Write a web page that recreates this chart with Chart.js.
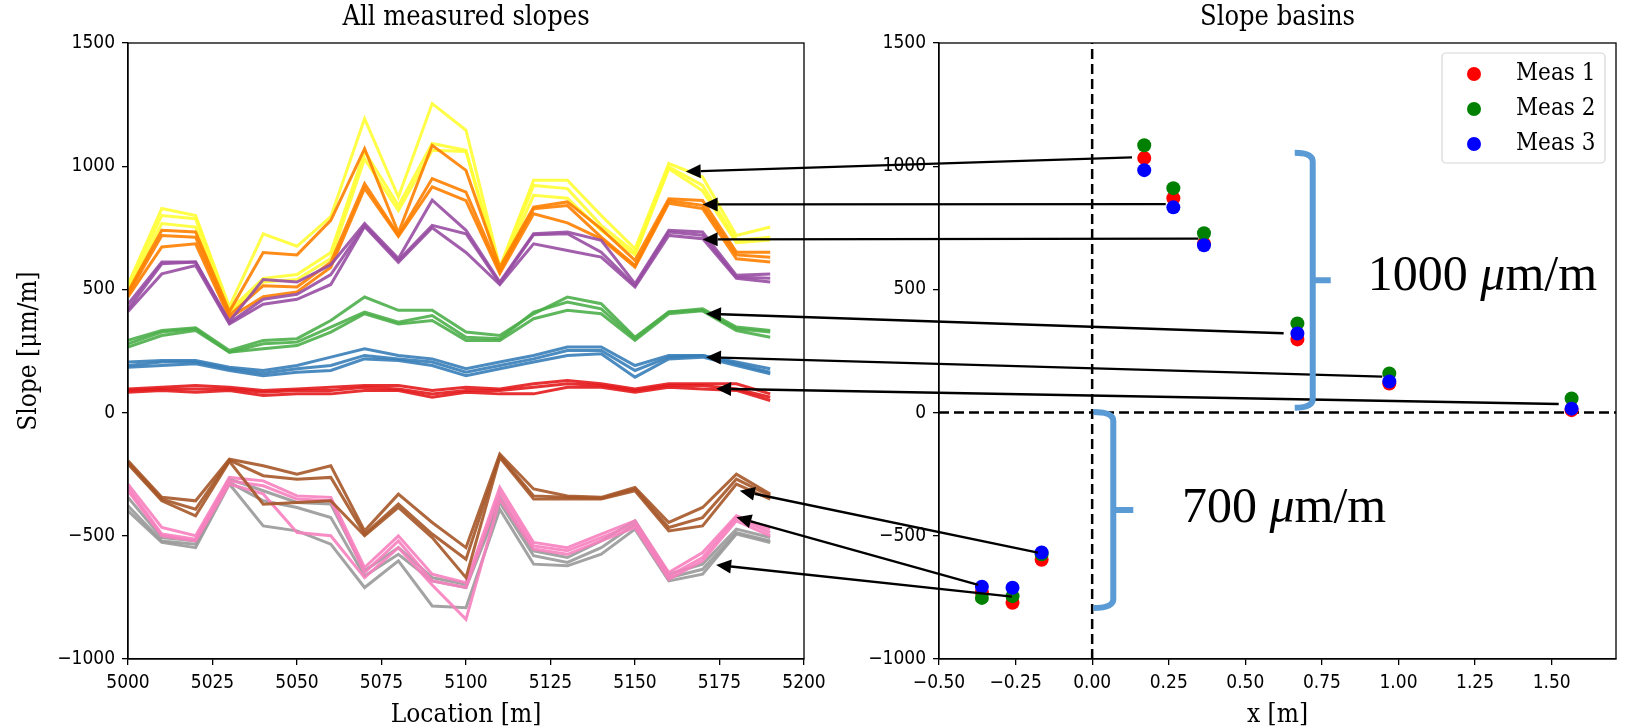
<!DOCTYPE html>
<html>
<head>
<meta charset="utf-8">
<title>Slopes</title>
<script src="https://cdn.jsdelivr.net/npm/chart.js@4.4.0/dist/chart.umd.min.js"></script>
<style>
  body { margin: 0; background: #fff; }
  #wrap { position: relative; width: 1637px; height: 728px; }
  canvas { position: absolute; top: 0; }
  #slopeChart { left: 0; }
  #basinChart { left: 818px; }
  #notes { left: 0; pointer-events: none; }
</style>
</head>
<body>
<div id="wrap">
  <canvas id="slopeChart" width="850" height="728"></canvas>
  <canvas id="basinChart" width="819" height="728"></canvas>
  <canvas id="notes" width="1637" height="728"></canvas>
</div>
<script>
// ---- measured slopes along the line, three runs per basin ----
const locations = [5000, 5010, 5020, 5030, 5040, 5050, 5060, 5070, 5080, 5090,
                   5100, 5110, 5120, 5130, 5140, 5150, 5160, 5170, 5180, 5190];

const red1 = [96, 103, 110, 103, 90, 96, 103, 110, 110, 90, 103, 96, 117, 130, 117, 96, 117, 117, 117, 76];
const red2 = [90, 96, 96, 96, 83, 90, 90, 103, 96, 76, 90, 90, 103, 117, 110, 90, 110, 110, 96, 62];
const red3 = [83, 90, 83, 90, 69, 76, 76, 90, 90, 62, 83, 76, 76, 103, 103, 83, 103, 96, 90, 49];

const blue1 = [205, 211, 211, 184, 171, 191, 225, 259, 232, 218, 178, 205, 232, 266, 266, 191, 232, 232, 205, 178];
const blue2 = [191, 205, 205, 178, 160, 178, 191, 232, 218, 205, 164, 191, 218, 252, 252, 171, 225, 232, 198, 164];
const blue3 = [184, 191, 198, 171, 150, 164, 171, 218, 211, 191, 150, 178, 205, 232, 239, 144, 218, 225, 191, 157];

const green1 = [293, 333, 344, 252, 293, 300, 374, 469, 415, 415, 327, 313, 401, 469, 442, 306, 408, 421, 347, 333];
const green2 = [279, 327, 340, 245, 279, 286, 347, 408, 367, 394, 306, 300, 408, 449, 421, 300, 408, 415, 340, 327];
const green3 = [266, 313, 333, 245, 259, 272, 327, 401, 360, 374, 293, 293, 381, 415, 401, 293, 401, 413, 333, 306];

const purple1 = [440, 611, 611, 370, 540, 530, 600, 767, 625, 862, 740, 530, 726, 733, 699, 523, 740, 733, 557, 563];
const purple2 = [420, 604, 611, 365, 460, 480, 560, 760, 618, 760, 726, 525, 722, 726, 651, 515, 733, 720, 550, 545];
const purple3 = [410, 563, 597, 360, 440, 460, 520, 755, 610, 750, 650, 520, 685, 658, 631, 510, 719, 706, 545, 530];

const orange1 = [490, 740, 733, 410, 650, 640, 780, 1071, 730, 1085, 983, 590, 834, 855, 746, 618, 868, 861, 651, 651];
const orange2 = [480, 719, 712, 395, 515, 510, 610, 929, 720, 950, 895, 575, 827, 840, 712, 597, 860, 841, 640, 630];
const orange3 = [470, 672, 685, 385, 470, 490, 590, 910, 715, 916, 860, 565, 807, 770, 705, 590, 850, 828, 624, 611];

const yellow1 = [520, 828, 800, 430, 725, 675, 795, 1193, 875, 1254, 1146, 590, 943, 943, 800, 665, 1011, 956, 719, 753];
const yellow2 = [505, 800, 787, 415, 545, 560, 650, 1060, 840, 1092, 1065, 580, 922, 909, 760, 650, 997, 922, 699, 712];
const yellow3 = [490, 767, 753, 405, 530, 540, 625, 1030, 820, 1065, 1060, 570, 882, 870, 740, 640, 990, 900, 690, 700];

const brown1 = [-195, -344, -358, -189, -216, -250, -216, -480, -331, -446, -548, -168, -310, -338, -344, -304, -446, -385, -250, -331];
const brown2 = [-202, -351, -392, -193, -256, -270, -263, -493, -371, -493, -595, -175, -338, -344, -348, -310, -466, -426, -270, -338];
const brown3 = [-209, -358, -419, -198, -372, -365, -358, -500, -385, -507, -670, -182, -351, -351, -351, -317, -480, -460, -290, -351];

const pink1 = [-290, -466, -500, -263, -277, -338, -344, -629, -500, -656, -690, -304, -527, -548, -493, -439, -649, -568, -419, -473];
const pink2 = [-304, -493, -514, -277, -297, -351, -358, -649, -521, -683, -710, -324, -541, -561, -507, -453, -663, -588, -426, -487];
const pink3 = [-317, -500, -521, -290, -330, -487, -500, -670, -548, -700, -839, -351, -554, -575, -521, -466, -676, -602, -439, -500];

const grey1 = [-344, -507, -521, -270, -317, -365, -371, -642, -548, -670, -697, -344, -561, -588, -521, -439, -656, -615, -473, -507];
const grey2 = [-378, -521, -534, -283, -358, -385, -426, -663, -575, -683, -710, -365, -581, -608, -548, -453, -670, -636, -487, -521];
const grey3 = [-399, -527, -548, -290, -460, -480, -534, -710, -602, -785, -792, -392, -615, -622, -575, -473, -683, -656, -493, -527];

// ---- basin positions and their slope per run ----
const basinX = [0.17, 0.265, 0.365, 0.67, 0.97, 1.565, -0.165, -0.36, -0.26];
const meas1 = [1033, 870, 685, 297, 118, 10, -597, -730, -772];
const meas2 = [1085, 911, 728, 362, 159, 57, -575, -752, -745];
const meas3 = [984, 833, 679, 321, 126, 16, -568, -707, -711];

// ---- axis ticks ----
const slopeTicks = [-1000, -500, 0, 500, 1000, 1500];
const locationTicks = [5000, 5025, 5050, 5075, 5100, 5125, 5150, 5175, 5200];
const basinTicks = [-0.5, -0.25, 0, 0.25, 0.5, 0.75, 1.0, 1.25, 1.5];

// ---- arrows: head on the slope profile, tail next to the basin point ----
const arrowHeadLoc = [5165, 5170, 5170, 5171, 5171, 5174, 5181, 5180, 5174];
const arrowHeadSlope = [978, 845, 703, 401, 225, 97, -317, -425, -618];
const arrowTailX = [0.13, 0.24, 0.347, 0.625, 0.947, 1.523, -0.177, -0.372, -0.262];
const arrowTailY = [1036, 846, 706, 322, 146, 35, -568, -699, -747];

const SET1 = {
  red: '#e41a1c', blue: '#377eb8', green: '#4daf4a', purple: '#984ea3', orange: '#ff7f00',
  yellow: '#ffff33', brown: '#a65628', pink: '#f781bf', grey: '#999999'
};

const profiles = [
  ['red', [red1, red2, red3]], ['blue', [blue1, blue2, blue3]], ['green', [green1, green2, green3]],
  ['purple', [purple1, purple2, purple3]], ['orange', [orange1, orange2, orange3]],
  ['yellow', [yellow1, yellow2, yellow3]], ['brown', [brown1, brown2, brown3]],
  ['pink', [pink1, pink2, pink3]], ['grey', [grey1, grey2, grey3]]
];

const SANS = '"DejaVu Sans Condensed", "DejaVu Sans", sans-serif';
const SERIF = '"DejaVu Serif Condensed", "DejaVu Serif", serif';

const fmtNum = v => (v < 0 ? '\u2212' + Math.abs(v) : String(v));

const fixTicks = vals => scale => { scale.ticks = vals.map(v => ({ value: v })); };

// keep the plot box fixed: no extra room for labels hanging past the ends
const fitBox = (w, h) => scale => {
  if (w !== null) scale.width = w;
  if (h !== null) scale.height = h;
  scale.paddingLeft = 0;
  scale.paddingRight = 0;
  scale.paddingTop = 0;
  scale.paddingBottom = 0;
};

function axisStyle() {
  return {
    grid: { display: true, drawOnChartArea: false, drawTicks: true, tickLength: 6, color: '#000', lineWidth: 1.3 },
    border: { display: true, color: '#000', width: 1.3 },
    ticks: { color: '#000', font: { family: SANS, size: 19 }, padding: 7 }
  };
}

// box round the plot area and the panel title
const framePlugin = {
  id: 'frame',
  afterDraw(chart, args, opts) {
    const { ctx, chartArea: a } = chart;
    ctx.save();
    ctx.strokeStyle = '#000';
    ctx.lineWidth = 1.3;
    ctx.strokeRect(a.left, a.top, a.right - a.left, a.bottom - a.top);
    ctx.fillStyle = '#000';
    ctx.font = '27px ' + SERIF;
    ctx.textAlign = 'center';
    ctx.textBaseline = 'middle';
    ctx.fillText(opts.title, (a.left + a.right) / 2, a.top - 25);
    ctx.restore();
  }
};

const lineSets = [];
profiles.forEach(([name, runs]) => {
  runs.forEach(run => {
    lineSets.push({
      data: locations.map((loc, i) => ({ x: loc, y: run[i] })),
      borderColor: SET1[name] + 'e6',
      borderWidth: 3,
      pointRadius: 0,
      tension: 0,
      fill: false
    });
  });
});

const xs = axisStyle(), ys = axisStyle();
const slopeChart = new Chart(document.getElementById('slopeChart'), {
  type: 'line',
  data: { datasets: lineSets },
  options: {
    responsive: false, animation: false, devicePixelRatio: 1,
    layout: { padding: { top: 43, right: 46, left: 0, bottom: 0 } },
    plugins: { legend: { display: false }, tooltip: { enabled: false }, frame: { title: 'All measured slopes' } },
    scales: {
      x: Object.assign(xs, {
        type: 'linear', min: 5000, max: 5200,
        afterBuildTicks: fixTicks(locationTicks),
        afterFit: fitBox(null, 69),
        title: { display: true, text: 'Location [m]', color: '#000', font: { family: SERIF, size: 26, lineHeight: 1 }, padding: { top: 0, bottom: 0 } }
      }),
      y: Object.assign(ys, {
        min: -1000, max: 1500,
        afterBuildTicks: fixTicks(slopeTicks),
        afterFit: fitBox(128, null),
        title: { display: true, text: 'Slope [\u03bcm/m]', color: '#000', font: { family: SERIF, size: 26, lineHeight: 1 }, padding: { top: 16, bottom: 0 } }
      })
    }
  },
  plugins: [framePlugin]
});
slopeChart.options.scales.x.ticks.callback = v => String(v);
slopeChart.options.scales.y.ticks.callback = v => fmtNum(v);
slopeChart.update();

const measColors = ['red', 'green', 'blue'];
const measRuns = [meas1, meas2, meas3];
const basinSets = measRuns.map((run, k) => ({
  type: 'scatter',
  label: 'Meas ' + (k + 1),
  data: basinX.map((x, i) => ({ x: x, y: run[i] })),
  backgroundColor: measColors[k],
  borderWidth: 0,
  pointRadius: 7,
  order: 3 - k
}));
const zeroStyle = { type: 'line', borderColor: '#000', borderWidth: 2.5, borderDash: [10, 5], pointRadius: 0, order: 5 };
basinSets.push(Object.assign({ data: [{ x: 0, y: -1000 }, { x: 0, y: 1500 }] }, zeroStyle));
basinSets.push(Object.assign({ data: [{ x: -0.5, y: 0 }, { x: 1.71, y: 0 }] }, zeroStyle));

// legend drawn inside the upper right corner
const basinLegend = {
  id: 'basinLegend',
  afterDraw(chart) {
    const { ctx, chartArea: a } = chart;
    const bx = a.right - 174, by = a.top + 10, bw = 163, bh = 110;
    ctx.save();
    ctx.fillStyle = 'rgba(255,255,255,0.8)';
    ctx.strokeStyle = '#d6d6d6';
    ctx.lineWidth = 1.2;
    ctx.beginPath();
    ctx.roundRect(bx, by, bw, bh, 4);
    ctx.fill();
    ctx.stroke();
    ctx.font = '24px ' + SERIF;
    ctx.textBaseline = 'middle';
    measColors.forEach((c, k) => {
      const cy = by + 21 + k * 35;
      ctx.fillStyle = c;
      ctx.beginPath();
      ctx.arc(bx + 32, cy, 7, 0, Math.PI * 2);
      ctx.fill();
      ctx.fillStyle = '#000';
      ctx.fillText('Meas ' + (k + 1), bx + 74, cy);
    });
    ctx.restore();
  }
};

const bxs = axisStyle(), bys = axisStyle();
const basinChart = new Chart(document.getElementById('basinChart'), {
  type: 'scatter',
  data: { datasets: basinSets },
  options: {
    responsive: false, animation: false, devicePixelRatio: 1,
    layout: { padding: { top: 43, right: 21, left: 0, bottom: 0 } },
    plugins: { legend: { display: false }, tooltip: { enabled: false }, frame: { title: 'Slope basins' } },
    scales: {
      x: Object.assign(bxs, {
        type: 'linear', min: -0.5, max: 1.71,
        afterBuildTicks: fixTicks(basinTicks),
        afterFit: fitBox(null, 69),
        title: { display: true, text: 'x [m]', color: '#000', font: { family: SERIF, size: 26, lineHeight: 1 }, padding: { top: 0, bottom: 0 } }
      }),
      y: Object.assign(bys, {
        min: -1000, max: 1500,
        afterBuildTicks: fixTicks(slopeTicks),
        afterFit: fitBox(121, null)
      })
    }
  },
  plugins: [framePlugin, basinLegend]
});
basinChart.options.scales.x.ticks.callback = v => (v < 0 ? '\u2212' + Math.abs(v).toFixed(2) : v.toFixed(2));
basinChart.options.scales.y.ticks.callback = v => fmtNum(v);
basinChart.update();

// ---- arrows, braces and range labels on top of both panels ----
const notes = document.getElementById('notes').getContext('2d');
const leftOff = 0, rightOff = 818;
const lx = v => leftOff + slopeChart.scales.x.getPixelForValue(v);
const ly = v => slopeChart.scales.y.getPixelForValue(v);
const rx = v => rightOff + basinChart.scales.x.getPixelForValue(v);
const ry = v => basinChart.scales.y.getPixelForValue(v);

function arrow(ctx, x1, y1, x2, y2) {
  const ang = Math.atan2(y2 - y1, x2 - x1);
  const hl = 15, hw = 7;
  const bx = x2 - hl * Math.cos(ang), by = y2 - hl * Math.sin(ang);
  ctx.beginPath();
  ctx.moveTo(x1, y1);
  ctx.lineTo(bx, by);
  ctx.stroke();
  ctx.beginPath();
  ctx.moveTo(x2, y2);
  ctx.lineTo(bx + hw * Math.sin(ang), by - hw * Math.cos(ang));
  ctx.lineTo(bx - hw * Math.sin(ang), by + hw * Math.cos(ang));
  ctx.closePath();
  ctx.fill();
}

notes.strokeStyle = '#000';
notes.fillStyle = '#000';
notes.lineWidth = 2.4;
arrowHeadLoc.forEach((loc, i) => {
  arrow(notes, rx(arrowTailX[i]), ry(arrowTailY[i]), lx(loc), ly(arrowHeadSlope[i]));
});

// right curly brace: hooks at both ends, short point in the middle
function brace(ctx, x, top, bottom, w) {
  const mid = (top + bottom) / 2, r = 9;
  ctx.beginPath();
  ctx.moveTo(x - w, top);
  ctx.quadraticCurveTo(x, top, x, top + r);
  ctx.lineTo(x, mid);
  ctx.lineTo(x + w, mid);
  ctx.lineTo(x, mid);
  ctx.lineTo(x, bottom - r);
  ctx.quadraticCurveTo(x, bottom, x - w, bottom);
  ctx.stroke();
}

notes.strokeStyle = '#5b9bd5';
notes.lineWidth = 6;
notes.lineCap = 'butt';
notes.lineJoin = 'miter';
brace(notes, rx(0.72), ry(1055), ry(20), 18);
brace(notes, rx(0.069), ry(2), ry(-793), 20);

function rangeLabel(ctx, value, x, y) {
  ctx.font = '50px "Liberation Serif", "Times New Roman", serif';
  ctx.textBaseline = 'middle';
  ctx.fillStyle = '#000';
  let cx = x;
  ctx.fillText(value + ' ', cx, y);
  cx += ctx.measureText(value + ' ').width;
  ctx.font = 'italic 50px "Liberation Serif", "Times New Roman", serif';
  ctx.fillText('\u03bc', cx, y);
  cx += ctx.measureText('\u03bc').width;
  ctx.font = '50px "Liberation Serif", "Times New Roman", serif';
  ctx.fillText('m/m', cx, y);
}
rangeLabel(notes, '1000', rx(0.9), ry(549));
rangeLabel(notes, '700', rx(0.293), ry(-390));
</script>
</body>
</html>
